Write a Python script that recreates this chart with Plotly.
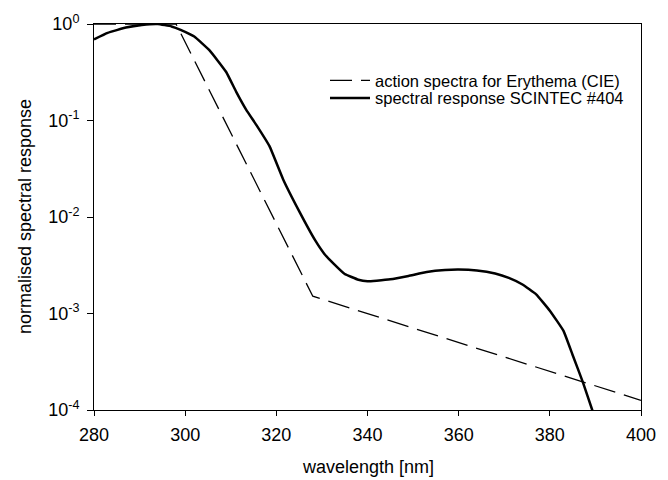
import plotly.graph_objects as go

# Erythema action spectrum (CIE) vertices
cie_wl = [280, 298, 328, 400]
cie_resp = [1.0, 1.0, 0.00151, 0.000126]

# SCINTEC #404 spectral response
sc_wl = [280, 283, 287, 290.5, 294, 297, 299, 302, 305.4, 309, 311.2, 313.4, 315.6,
         318.5, 321.5, 325, 328.5, 330.5, 332.5, 335, 338, 340, 342, 345, 349, 353,
         357, 360, 364, 368, 371, 374, 377, 380, 383, 385, 387.3, 389.3, 390]
sc_resp = [0.692, 0.809, 0.918, 0.977, 1.0, 0.944, 0.871, 0.741, 0.530, 0.318, 0.198,
           0.129, 0.0902, 0.0542, 0.0245, 0.0115, 0.00575, 0.00417, 0.00331, 0.00257,
           0.00224, 0.00216, 0.00219, 0.00226, 0.00245, 0.00269, 0.00282, 0.00285,
           0.00279, 0.00260, 0.00234, 0.00200, 0.00158, 0.00107, 0.000661, 0.000372,
           0.000191, 0.000100, 0.0000794]

x_ticks = [280, 300, 320, 340, 360, 380, 400]
y_ticks = [1, 0.1, 0.01, 0.001, 0.0001]
y_ticktext = ["10<sup>0</sup>", "10<sup>-1</sup>", "10<sup>-2</sup>", "10<sup>-3</sup>", "10<sup>-4</sup>"]

FONT = "Liberation Sans, Arial, Helvetica, sans-serif"

fig = go.Figure()
fig.add_trace(go.Scatter(x=cie_wl, y=cie_resp, mode="lines",
                         name="action spectra for Erythema (CIE)", legend="legend",
                         line=dict(color="black", width=1.3, dash="22px,9px")))
fig.add_trace(go.Scatter(x=sc_wl, y=sc_resp, mode="lines",
                         name="spectral response SCINTEC #404", legend="legend2",
                         line=dict(color="black", width=2.5, shape="spline", smoothing=0.3)))

leg_common = dict(xanchor="left", yanchor="middle", bgcolor="rgba(0,0,0,0)",
                  font=dict(size=16.5, family=FONT), itemwidth=40)

fig.update_layout(
    width=668, height=480,
    margin=dict(l=94, r=27, t=20, b=70),
    paper_bgcolor="white", plot_bgcolor="white",
    font=dict(family=FONT, color="black", size=18),
    showlegend=True,
    legend=dict(x=0.4223, y=0.8533, **leg_common),
    legend2=dict(x=0.4223, y=0.8077, **leg_common),
    xaxis=dict(range=[280, 400], tickvals=x_ticks, ticks="outside", ticklen=5,
               tickcolor="black", showline=True, linecolor="black", linewidth=1,
               mirror=True, showgrid=False, zeroline=False, ticklabelstandoff=3,
               tickfont=dict(size=18, family=FONT)),
    yaxis=dict(type="log", range=[-4, 0], tickvals=y_ticks, ticktext=y_ticktext,
               ticks="outside", ticklen=6, tickcolor="black", showline=True,
               linecolor="black", linewidth=1, mirror=True, showgrid=False,
               zeroline=False, ticklabelstandoff=4, tickfont=dict(size=18, family=FONT)),
    annotations=[
        dict(text="wavelength [nm]", xref="paper", yref="paper", x=0.5, y=-0.148,
             showarrow=False, xanchor="center", yanchor="middle",
             font=dict(size=18, family=FONT)),
        dict(text="normalised spectral response", xref="paper", yref="paper",
             x=-0.126, y=0.5, showarrow=False, textangle=-90,
             xanchor="center", yanchor="middle", font=dict(size=18, family=FONT)),
    ],
)

fig.write_html("out.html", config={"displayModeBar": False},
               post_script="document.body.style.margin='0';document.body.style.padding='0';")
